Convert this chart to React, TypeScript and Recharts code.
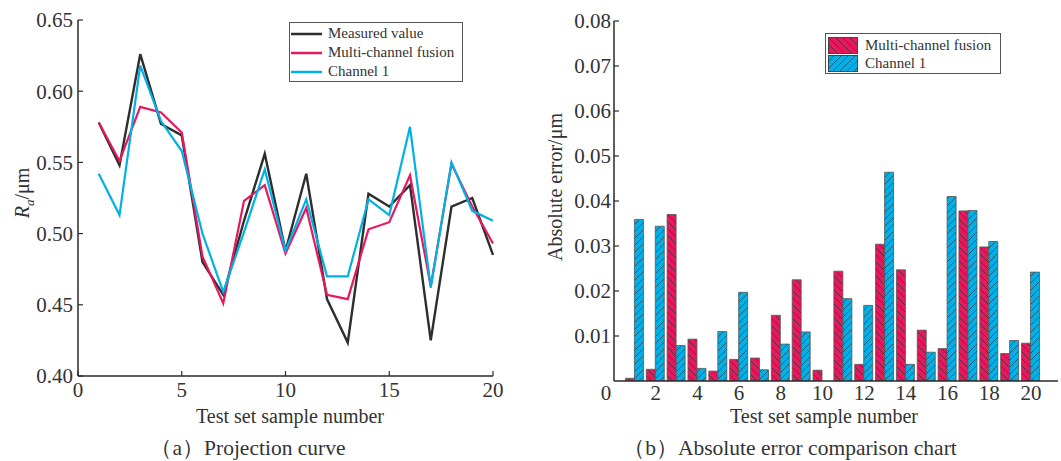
import React from 'react';
import { LineChart, Line, BarChart, Bar, XAxis, YAxis, Legend } from 'recharts';

// ---- data ----
const samples = [1, 2, 3, 4, 5, 6, 7, 8, 9, 10, 11, 12, 13, 14, 15, 16, 17, 18, 19, 20];

const measured = [0.578, 0.548, 0.626, 0.577, 0.569, 0.480, 0.457, 0.509, 0.556, 0.488,
  0.542, 0.454, 0.4235, 0.528, 0.519, 0.534, 0.425, 0.519, 0.525, 0.485];
const fusionPred = [0.578, 0.551, 0.589, 0.585, 0.571, 0.484, 0.451, 0.523, 0.534, 0.486,
  0.518, 0.457, 0.454, 0.503, 0.508, 0.541, 0.463, 0.549, 0.519, 0.493];
const channel1Pred = [0.542, 0.513, 0.618, 0.579, 0.558, 0.500, 0.459, 0.501, 0.545, 0.488,
  0.524, 0.470, 0.470, 0.524, 0.513, 0.575, 0.462, 0.550, 0.516, 0.509];

const fusionErr = [0.0006, 0.0026, 0.0370, 0.0093, 0.0022, 0.0048, 0.0051, 0.0146, 0.0225, 0.0024,
  0.0244, 0.0037, 0.0304, 0.0247, 0.0113, 0.0072, 0.0378, 0.0298, 0.0061, 0.0084];
const channel1Err = [0.0359, 0.0344, 0.0079, 0.0028, 0.0110, 0.0197, 0.0025, 0.0082, 0.0109, 0,
  0.0183, 0.0168, 0.0464, 0.0037, 0.0064, 0.0410, 0.0379, 0.0310, 0.0090, 0.0242];

const lineXTicks = [0, 5, 10, 15, 20];
const lineYTicks = [0.40, 0.45, 0.50, 0.55, 0.60, 0.65];
const barXTicks = [0, 2, 4, 6, 8, 10, 12, 14, 16, 18, 20];
const barYTicks = [0.01, 0.02, 0.03, 0.04, 0.05, 0.06, 0.07, 0.08];

const seriesOrder = ['measured', 'fusion', 'channel1'];

const lineData = samples.map((x, i) => ({
  x, measured: measured[i], fusion: fusionPred[i], channel1: channel1Pred[i],
}));
const barData = samples.map((x, i) => ({ x, fusion: fusionErr[i], channel1: channel1Err[i] }));

// ---- styles ----
const FONT = '"Liberation Serif", "Times New Roman", serif';
const AXIS = '#2a2a2a';
const TEXT = '#333';
const BLACK = '#2e2e2e';
const PINK = '#e6195e';
const BLUE = '#00b0e6';

// ticks point inward, labels outside
const XTick = (props: any) => {
  const { x, y, payload, inward, labelDy } = props;
  const dx = props.shiftZero && payload.value === 0 ? -8 : 0;
  return (
    <g>
      {inward && <line x1={x} y1={y} x2={x} y2={y - 5} stroke={AXIS} strokeWidth={1.2} />}
      <text x={x + dx} y={y + labelDy} textAnchor="middle" fontSize={21} fontFamily={FONT} fill={TEXT}>
        {payload.value}
      </text>
    </g>
  );
};

const YTick = (props: any) => {
  const { x, y, payload, gap } = props;
  return (
    <g>
      <line x1={x} y1={y} x2={x + 5} y2={y} stroke={AXIS} strokeWidth={1.2} />
      <text x={x - gap} y={y} dy="0.35em" textAnchor="end" fontSize={21} fontFamily={FONT} fill={TEXT}>
        {payload.value.toFixed(2)}
      </text>
    </g>
  );
};

const sortKey = (item: any) => seriesOrder.indexOf(String(item.dataKey));

const LineLegend = ({ payload }: any) => (
  <div style={{
    width: 172, height: 57, border: '1px solid #555', background: '#fff',
    fontFamily: FONT, fontSize: 15, color: TEXT, paddingTop: 1,
  }}>
    {(payload ?? []).map((p: any) => (
      <div key={p.value} style={{ display: 'flex', alignItems: 'center', height: 19 }}>
        <svg width={37} height={10} style={{ marginLeft: 1 }}>
          <line x1={0} y1={5} x2={31} y2={5} stroke={p.color} strokeWidth={2.5} />
        </svg>
        <span>{p.value}</span>
      </div>
    ))}
  </div>
);

const BarLegend = ({ payload }: any) => (
  <div style={{
    width: 174, height: 39, border: '1px solid #555', background: '#fff',
    fontFamily: FONT, fontSize: 15, color: TEXT,
  }}>
    {(payload ?? []).map((p: any, i: number) => (
      <div key={p.value} style={{ display: 'flex', alignItems: 'center', height: 18, marginTop: i === 0 ? 2 : 0 }}>
        <svg width={37} height={17} style={{ marginLeft: 2 }}>
          <rect x={0.5} y={0.5} width={29} height={16}
            fill={p.dataKey === 'fusion' ? 'url(#hatchPink)' : 'url(#hatchBlue)'} stroke="#444" strokeWidth={1} />
        </svg>
        <span>{p.value}</span>
      </div>
    ))}
  </div>
);

// zero-size wrapper so the legend takes no room from the plot
const legendWrap = (left: number, top: number): React.CSSProperties => ({
  position: 'absolute', left, top, width: 0, height: 0, overflow: 'visible',
});

const titleStyle = (left: number, top: number, rotate = false, size = 20): React.CSSProperties => ({
  position: 'absolute', left, top, fontFamily: FONT, fontSize: size, color: TEXT,
  whiteSpace: 'nowrap', transform: `translate(-50%, -50%)${rotate ? ' rotate(-90deg)' : ''}`,
  lineHeight: 1,
});

export default function App() {
  return (
    <div style={{ position: 'absolute', left: 0, top: 0, width: 1061, height: 461, background: '#fff', overflow: 'hidden' }}>
      {/* (a) projection curve */}
      <div style={{ position: 'absolute', left: 0, top: 0 }}>
        <LineChart width={530} height={461} data={lineData} margin={{ top: 20, right: 37, bottom: 0, left: 0 }}>
          <XAxis dataKey="x" type="number" domain={[0, 20]} ticks={lineXTicks} height={85}
            stroke={AXIS} strokeWidth={1.5} tickSize={0} tickMargin={0}
            tick={(p: any) => <XTick {...p} inward labelDy={21} />} />
          <YAxis type="number" domain={[0.4, 0.65]} ticks={lineYTicks} width={78} allowDataOverflow
            stroke={AXIS} strokeWidth={1.5} tickSize={0} tickMargin={0}
            tick={(p: any) => <YTick {...p} gap={5} />} />
          <Line dataKey="measured" name="Measured value" stroke={BLACK} strokeWidth={2.4} dot={false} isAnimationActive={false} />
          <Line dataKey="fusion" name="Multi-channel fusion" stroke={PINK} strokeWidth={2.2} dot={false} isAnimationActive={false} />
          <Line dataKey="channel1" name="Channel 1" stroke={BLUE} strokeWidth={2.2} dot={false} isAnimationActive={false} />
          <Legend layout="vertical" content={<LineLegend />} itemSorter={sortKey}
            wrapperStyle={legendWrap(289, 22)} />
        </LineChart>
      </div>

      {/* (b) absolute error comparison */}
      <div style={{ position: 'absolute', left: 530, top: 0 }}>
        <BarChart width={531} height={461} data={barData} margin={{ top: 21, right: 3, bottom: 0, left: 0 }}
          barGap={0} barSize={9}>
          <defs>
            <pattern id="hatchPink" patternUnits="userSpaceOnUse" width={7} height={7}>
              <rect width={7} height={7} fill={PINK} />
              <path d="M0,0 L7,7 M-1,6 L1,8 M6,-1 L8,1" stroke="#3a2a30" strokeWidth={0.7} />
            </pattern>
            <pattern id="hatchBlue" patternUnits="userSpaceOnUse" width={7} height={7}>
              <rect width={7} height={7} fill={BLUE} />
              <path d="M0,7 L7,0 M-1,1 L1,-1 M6,8 L8,6" stroke="#1f3a48" strokeWidth={0.7} />
            </pattern>
          </defs>
          <XAxis dataKey="x" type="number" domain={[0, 21.3]} ticks={barXTicks} height={80}
            stroke={AXIS} strokeWidth={1.5} tickSize={0} tickMargin={0}
            tick={(p: any) => <XTick {...p} shiftZero labelDy={19} />} />
          <YAxis type="number" domain={[0, 0.08]} ticks={barYTicks} width={84} allowDataOverflow
            stroke={AXIS} strokeWidth={1.5} tickSize={0} tickMargin={0}
            tick={(p: any) => <YTick {...p} gap={3} />} />
          <Bar dataKey="fusion" name="Multi-channel fusion" fill="url(#hatchPink)" stroke="#555" strokeWidth={0.8} isAnimationActive={false} />
          <Bar dataKey="channel1" name="Channel 1" fill="url(#hatchBlue)" stroke="#555" strokeWidth={0.8} isAnimationActive={false} />
          <Legend layout="vertical" content={<BarLegend />} itemSorter={sortKey}
            wrapperStyle={legendWrap(295, 33)} />
        </BarChart>
      </div>

      {/* axis titles and captions */}
      <div style={titleStyle(24, 193, true)}>
        <i>R</i><sub style={{ fontStyle: 'italic', fontSize: 13 }}>a</sub>/μm
      </div>
      <div style={titleStyle(290, 416)}>Test set sample number</div>
      <div style={titleStyle(248, 449, false, 21.5)}>（a）Projection curve</div>

      <div style={titleStyle(555, 187, true)}>Absolute error/μm</div>
      <div style={titleStyle(824, 416)}>Test set sample number</div>
      <div style={titleStyle(790, 449, false, 21.5)}>（b）Absolute error comparison chart</div>
    </div>
  );
}
